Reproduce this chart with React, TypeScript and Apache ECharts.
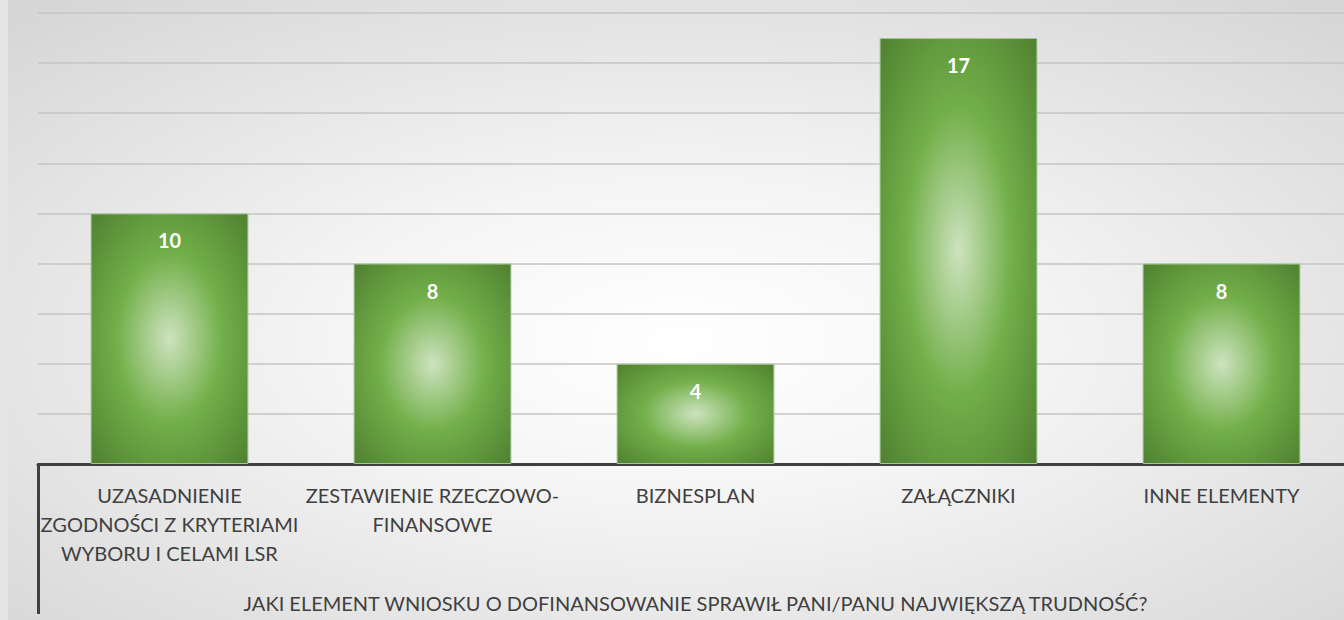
import React, { useEffect, useRef } from "react";
import * as echarts from "echarts";

const categories = [
  "UZASADNIENIE\nZGODNOŚCI Z KRYTERIAMI\nWYBORU I CELAMI LSR",
  "ZESTAWIENIE RZECZOWO-\nFINANSOWE",
  "BIZNESPLAN",
  "ZAŁĄCZNIKI",
  "INNE ELEMENTY",
];
const values = [10, 8, 4, 17, 8];
const axisTitle = "JAKI ELEMENT WNIOSKU O DOFINANSOWANIE SPRAWIŁ PANI/PANU NAJWIĘKSZĄ TRUDNOŚĆ?";
const yMin = 0;
const yMax = 18;
const yInterval = 2;

export default function App() {
  const ref = useRef<HTMLDivElement>(null);
  useEffect(() => {
    if (!ref.current) return;
    const chart = echarts.init(ref.current, undefined, { renderer: "svg" });
    const barColor = new echarts.graphic.RadialGradient(0.5, 0.5, 0.75, [
      { offset: 0, color: "#cde3bf" },
      { offset: 0.45, color: "#72af49" },
      { offset: 1, color: "#4b7b2e" },
    ]);
    chart.setOption({
      animation: false,
      backgroundColor: new echarts.graphic.RadialGradient(0.5, 0.55, 0.72, [
        { offset: 0, color: "#ffffff" },
        { offset: 0.35, color: "#f5f5f5" },
        { offset: 1, color: "#d6d6d6" },
      ]),
      grid: { left: 30, right: 0, top: 13, bottom: 156, containLabel: false },
      xAxis: {
        type: "category",
        data: categories,
        axisLine: { show: true, lineStyle: { color: "#404040", width: 3 } },
        axisTick: {
          show: true,
          interval: (i: number) => i === 0,
          length: 150,
          lineStyle: { color: "#404040", width: 3 },
        },
        axisLabel: {
          interval: 0,
          color: "#404040",
          fontFamily: "Lato",
          fontSize: 20,
          lineHeight: 29,
          margin: 16,
        },
        name: axisTitle,
        nameLocation: "middle",
        nameGap: 129,
        nameTextStyle: { color: "#404040", fontFamily: "Lato", fontSize: 20 },
      },
      yAxis: {
        type: "value",
        min: yMin,
        max: yMax,
        interval: yInterval,
        axisLabel: { show: false },
        axisLine: { show: false },
        axisTick: { show: false },
        splitLine: { lineStyle: { color: "#c4c4c4", width: 1.5 } },
      },
      series: [
        {
          type: "bar",
          data: values,
          barCategoryGap: "40%",
          itemStyle: { color: barColor, borderColor: "#a3c593", borderWidth: 1 },
          label: {
            show: true,
            position: "insideTop",
            distance: 17,
            color: "#ffffff",
            fontFamily: "Lato",
            fontWeight: "bold",
            fontSize: 20,
          },
        },
      ],
    });
    return () => chart.dispose();
  }, []);
  return (
    <div style={{ position: "absolute", left: 0, top: 0, width: 1344, height: 620, background: "#e4e4e4", overflow: "hidden" }}>
      <div ref={ref} style={{ position: "absolute", left: 8, top: 0, width: 1345, height: 620 }} />
    </div>
  );
}
